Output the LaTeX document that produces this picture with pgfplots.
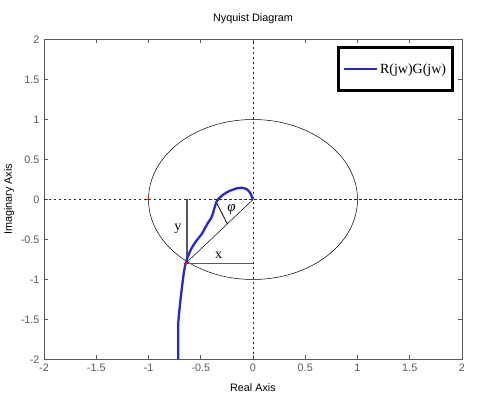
\documentclass[border=0pt]{standalone}
\usepackage{pgfplots}
\pgfplotsset{compat=1.18}
\usepackage{fontspec}
\setmainfont{Liberation Sans}
\newfontfamily\serif{Liberation Serif}
\definecolor{curveblue}{RGB}{40,40,205}
\definecolor{axgray}{RGB}{90,90,90}
\begin{document}
\begin{tikzpicture}
\begin{axis}[
  scale only axis,
  width=418pt, height=320pt,
  xmin=-2, xmax=2, ymin=-2, ymax=2,
  xtick={-2,-1.5,...,2}, ytick={-2,-1.5,...,2},
  tick align=inside,
  major tick length=4pt,
  axis line style={axgray, line width=0.8pt},
  tick style={axgray, line width=0.8pt},
  /pgf/number format/assume math mode=true,
  ticklabel style={font=\fontsize{10.8}{13}\selectfont, text=axgray},
  xticklabel style={yshift=-1pt},
  yticklabel style={xshift=-1pt},
  title={Nyquist Diagram},
  title style={at={(0.5,1)}, anchor=center, yshift=14.5pt, font=\fontsize{10.8}{13}\selectfont},
  xlabel={Real Axis},
  xlabel style={at={(0.5,0)}, anchor=center, yshift=-28pt, font=\fontsize{10.8}{13}\selectfont},
  ylabel={Imaginary Axis},
  ylabel style={at={(0,0.5)}, anchor=center, yshift=35pt, font=\fontsize{10.8}{13}\selectfont},
  legend style={at={(rel axis cs:0.980,0.980)}, anchor=north east,
    draw=black, line width=3pt, inner xsep=4pt, inner ysep=14pt,
    font=\serif\fontsize{14}{16}\selectfont},
  legend cell align=left,
  legend image code/.code={\draw[#1, line width=2.5pt] (0pt,0pt) -- (33pt,0pt);},
  clip=true,
]
% dotted axes through origin
\addplot[black!85, line width=0.4pt, dash pattern=on 2.5pt off 2.5pt, forget plot] coordinates {(-2,0) (2,0)};
\addplot[black!85, line width=0.4pt, dash pattern=on 2.5pt off 2.5pt, forget plot] coordinates {(0,-2) (0,2)};
% unit circle
\draw[black, line width=0.5pt] (axis cs:0,0) ellipse [x radius=1, y radius=1];
% annotation lines
\addplot[black!65, line width=1.4pt, forget plot] coordinates {(-0.63,0) (-0.63,-0.80)};
\addplot[black!65, line width=1.4pt, forget plot] coordinates {(-0.645,-0.80) (0,-0.80)};
\addplot[black, line width=0.5pt, forget plot] coordinates {(0,0) (-0.645,-0.80)};
\addplot[black, line width=0.8pt, forget plot] coordinates {(-0.357,-0.02) (-0.245,-0.305)};
\node[font=\serif\fontsize{14}{16}\selectfont] at (axis cs:-0.72,-0.37) {y};
\node[font=\serif\fontsize{14}{16}\selectfont] at (axis cs:-0.33,-0.70) {x};
\node[font=\serif\itshape\fontsize{15}{17}\selectfont] at (axis cs:-0.205,-0.13) {φ};
% critical point markers
\addplot[only marks, mark=+, red, mark size=2pt, forget plot] coordinates {(-1,0) (-0.645,-0.80)};
% Nyquist curve
\addplot[curveblue, line width=2.3pt, smooth, tension=0.5] coordinates {
(0,0) (-0.03,0.09) (-0.07,0.135) (-0.11,0.147) (-0.16,0.138) (-0.20,0.12)
(-0.25,0.09) (-0.29,0.055) (-0.325,0.015) (-0.35,-0.03) (-0.365,-0.09)
(-0.38,-0.16) (-0.40,-0.23) (-0.43,-0.29) (-0.46,-0.36) (-0.49,-0.43)
(-0.555,-0.54) (-0.60,-0.64) (-0.625,-0.72) (-0.645,-0.80)
(-0.66,-0.90) (-0.67,-1.0) (-0.68,-1.10) (-0.69,-1.21) (-0.70,-1.33)
(-0.71,-1.46) (-0.715,-1.54) (-0.715,-1.75) (-0.715,-2.0)
};
\addlegendentry{R(jw)G(jw)}
\end{axis}
\useasboundingbox (-44pt,-38.5pt) rectangle (444pt,359.5pt);
\end{tikzpicture}
\end{document}
